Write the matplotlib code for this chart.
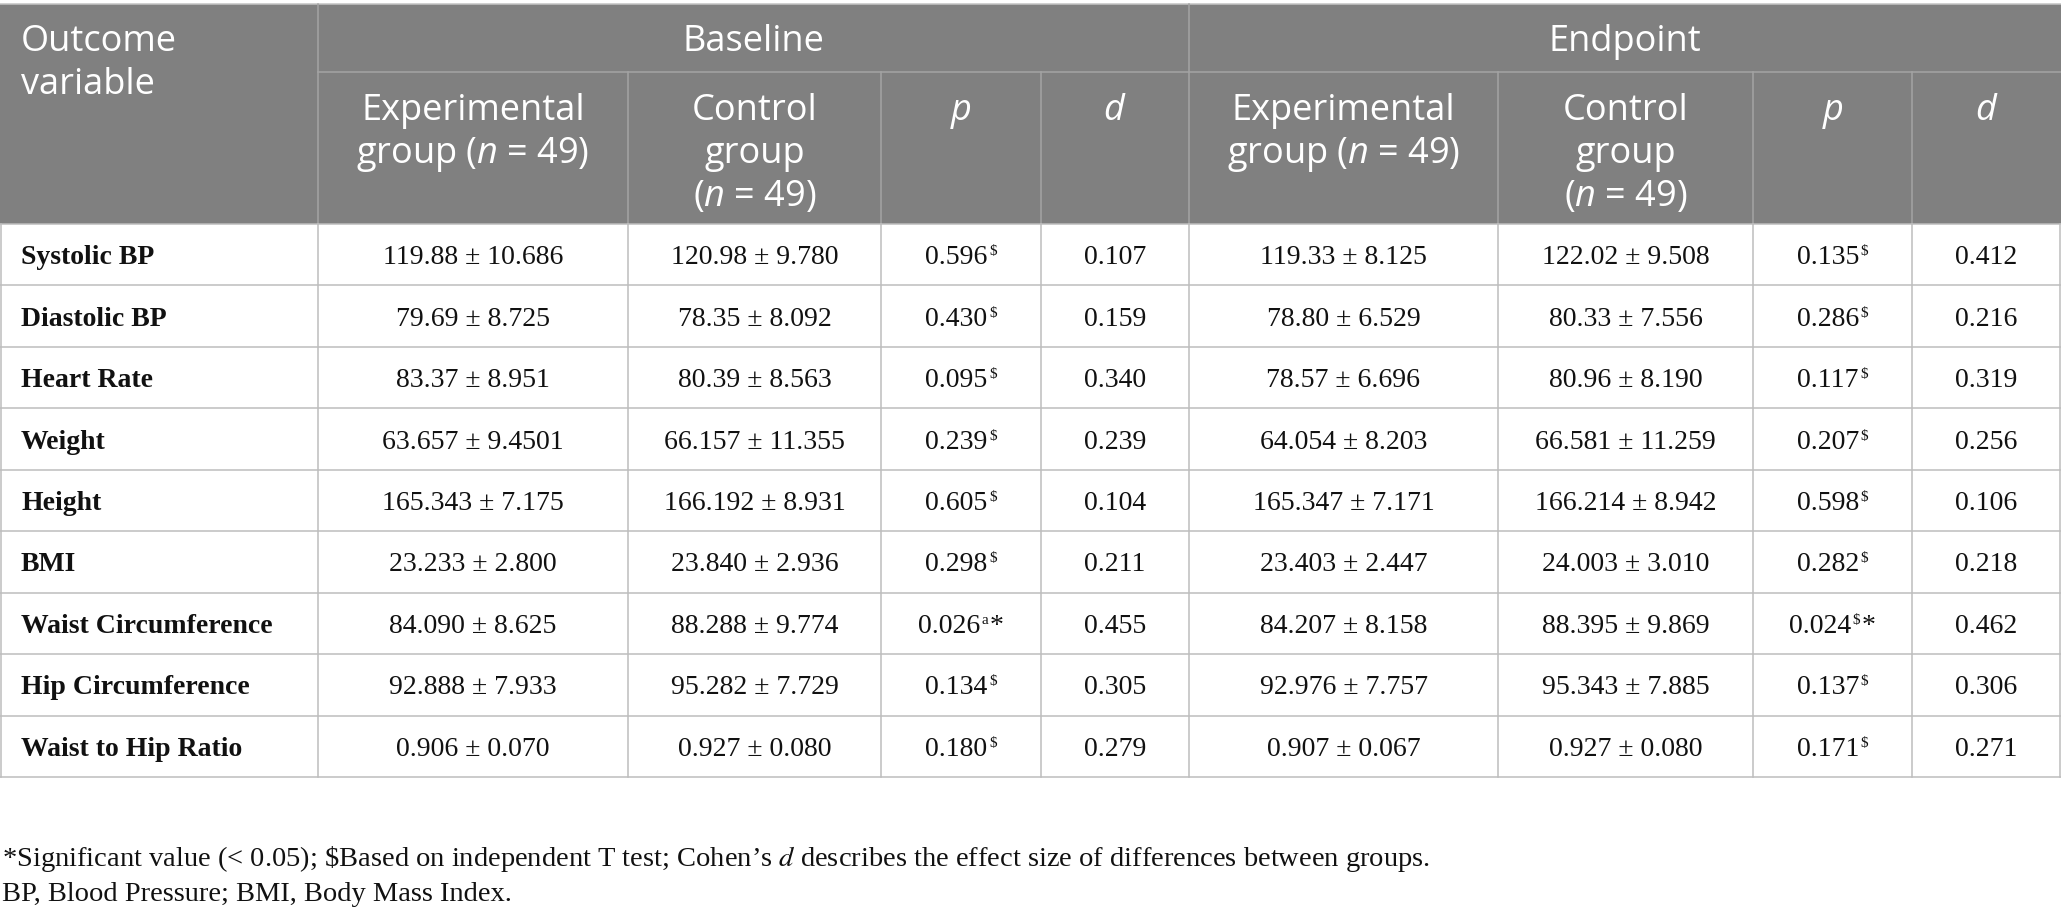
import matplotlib
matplotlib.use("Agg")
import matplotlib.pyplot as plt
from matplotlib.patches import Rectangle

# ---------------- data ----------------
outcomes = ["Systolic BP", "Diastolic BP", "Heart Rate", "Weight", "Height", "BMI",
            "Waist Circumference", "Hip Circumference", "Waist to Hip Ratio"]

base_exp_mean = ["119.88", "79.69", "83.37", "63.657", "165.343", "23.233", "84.090", "92.888", "0.906"]
base_exp_sd = ["10.686", "8.725", "8.951", "9.4501", "7.175", "2.800", "8.625", "7.933", "0.070"]
base_ctrl_mean = ["120.98", "78.35", "80.39", "66.157", "166.192", "23.840", "88.288", "95.282", "0.927"]
base_ctrl_sd = ["9.780", "8.092", "8.563", "11.355", "8.931", "2.936", "9.774", "7.729", "0.080"]
base_p = ["0.596", "0.430", "0.095", "0.239", "0.605", "0.298", "0.026", "0.134", "0.180"]
base_p_sup = ["$", "$", "$", "$", "$", "$", "a", "$", "$"]
base_p_sig = ["", "", "", "", "", "", "*", "", ""]
base_d = ["0.107", "0.159", "0.340", "0.239", "0.104", "0.211", "0.455", "0.305", "0.279"]

end_exp_mean = ["119.33", "78.80", "78.57", "64.054", "165.347", "23.403", "84.207", "92.976", "0.907"]
end_exp_sd = ["8.125", "6.529", "6.696", "8.203", "7.171", "2.447", "8.158", "7.757", "0.067"]
end_ctrl_mean = ["122.02", "80.33", "80.96", "66.581", "166.214", "24.003", "88.395", "95.343", "0.927"]
end_ctrl_sd = ["9.508", "7.556", "8.190", "11.259", "8.942", "3.010", "9.869", "7.885", "0.080"]
end_p = ["0.135", "0.286", "0.117", "0.207", "0.598", "0.282", "0.024", "0.137", "0.171"]
end_p_sup = ["$", "$", "$", "$", "$", "$", "$", "$", "$"]
end_p_sig = ["", "", "", "", "", "", "*", "", ""]
end_d = ["0.412", "0.216", "0.319", "0.256", "0.106", "0.218", "0.462", "0.306", "0.271"]

group_headers = ["Baseline", "Endpoint"]
first_header = ["Outcome", "variable"]
sub_headers = [["Experimental", "group ($n$ = 49)"], ["Control", "group", "($n$ = 49)"], ["$p$"], ["$d$"]]
footnotes = [r"*Significant value (< 0.05); \$Based on independent T test; Cohen’s $d$ describes the effect size of differences between groups.",
             "BP, Blood Pressure; BMI, Body Mass Index."]

# ---------------- style / layout ----------------
W, H = 2061, 917
SANS = "Open Sans"
SERIF = "Liberation Serif"
HEAD_FS = 26
BODY_FS = 20
SUP_FS = 11
FOOT_FS = 20.5
HEAD_BG = "#808080"
HEAD_LINE = "#a4a4a4"
GRID = "#bdbdbd"
INK = "#111111"

plt.rcParams["mathtext.fontset"] = "custom"
plt.rcParams["mathtext.rm"] = "Open Sans"
plt.rcParams["mathtext.it"] = "Open Sans:italic"

col_edges = [0, 318, 628, 881, 1041, 1189, 1498, 1753, 1912, 2061]
head_top, head_mid, head_bot = 4, 72, 224
table_bot = 777
n_rows = len(outcomes)
row_h = (table_bot - head_bot) / n_rows

fig = plt.figure(figsize=(W / 100, H / 100), dpi=100)
ax = fig.add_axes([0, 0, 1, 1])
ax.set_xlim(0, W)
ax.set_ylim(H, 0)
ax.axis("off")

lw = 1.1

# header background
ax.add_patch(Rectangle((0, head_top), W, head_bot - head_top, facecolor=HEAD_BG, edgecolor="none", zorder=0))
ax.plot([0, W], [head_top, head_top], color="#c4c4c4", lw=lw, zorder=1)
# header lines
ax.plot([col_edges[1], W], [head_mid, head_mid], color=HEAD_LINE, lw=lw, zorder=1)
for xe in col_edges[1:-1]:
    y0 = head_top if xe in (col_edges[1], col_edges[5]) else head_mid
    ax.plot([xe, xe], [y0, head_bot], color=HEAD_LINE, lw=lw, zorder=1)

# body grid
for r in range(n_rows + 1):
    y = head_bot + r * row_h
    ax.plot([0, W], [y, y], color=GRID, lw=lw, zorder=1)
for xe in col_edges:
    xx = min(max(xe, 0.7), W - 0.7)
    ax.plot([xx, xx], [head_bot, table_bot], color=GRID, lw=lw, zorder=1)

# header text
for k, line in enumerate(first_header):
    ax.text(21, 51 + k * 43, line, fontsize=HEAD_FS, family=SANS, color="white", ha="left", va="baseline")
for g, name in enumerate(group_headers):
    xc = (col_edges[1 + 4 * g] + col_edges[5 + 4 * g]) / 2
    ax.text(xc, 51, name, fontsize=HEAD_FS, family=SANS, color="white", ha="center", va="baseline")
    for j, lines in enumerate(sub_headers):
        c = 1 + 4 * g + j
        xcc = (col_edges[c] + col_edges[c + 1]) / 2
        for k, line in enumerate(lines):
            ax.text(xcc, 120 + k * 43, line, fontsize=HEAD_FS, family=SANS, color="white",
                    ha="center", va="baseline", math_fontfamily="custom")

# body text
fig.canvas.draw()
renderer = fig.canvas.get_renderer()


def draw_p(xc, yb, main, sup, sig):
    texts = [ax.text(0, yb, main, fontsize=BODY_FS, family=SERIF, ha="left", va="baseline", color=INK),
             ax.text(0, yb - 9, sup, fontsize=SUP_FS, family=SERIF, ha="left", va="baseline", color=INK)]
    if sig:
        texts.append(ax.text(0, yb, sig, fontsize=BODY_FS, family=SERIF, ha="left", va="baseline", color=INK))
    widths = [t.get_window_extent(renderer).width for t in texts]
    gap = 1.5
    total = sum(widths) + gap * (len(texts) - 1)
    x = xc - total / 2
    for t, w in zip(texts, widths):
        t.set_x(x)
        x += w + gap


def ccenter(c):
    return (col_edges[c] + col_edges[c + 1]) / 2


for r in range(n_rows):
    yb = head_bot + (r + 0.5) * row_h + 9.5
    ax.text(21, yb, outcomes[r], fontsize=BODY_FS, family=SERIF, weight="bold", ha="left", va="baseline", color=INK)
    vals = [(1, f"{base_exp_mean[r]} ± {base_exp_sd[r]}"), (2, f"{base_ctrl_mean[r]} ± {base_ctrl_sd[r]}"),
            (4, base_d[r]),
            (5, f"{end_exp_mean[r]} ± {end_exp_sd[r]}"), (6, f"{end_ctrl_mean[r]} ± {end_ctrl_sd[r]}"),
            (8, end_d[r])]
    for c, s in vals:
        ax.text(ccenter(c), yb, s, fontsize=BODY_FS, family=SERIF, ha="center", va="baseline", color=INK)
    draw_p(ccenter(3), yb, base_p[r], base_p_sup[r], base_p_sig[r])
    draw_p(ccenter(7), yb, end_p[r], end_p_sup[r], end_p_sig[r])

# footnotes
ax.text(2, 866, footnotes[0], fontsize=FOOT_FS, family=SERIF, ha="left", va="baseline",
        color=INK, math_fontfamily="stix")
ax.text(2, 901, footnotes[1], fontsize=FOOT_FS, family=SERIF, ha="left", va="baseline", color=INK)

fig.savefig("out.png", dpi=100, facecolor="white")
